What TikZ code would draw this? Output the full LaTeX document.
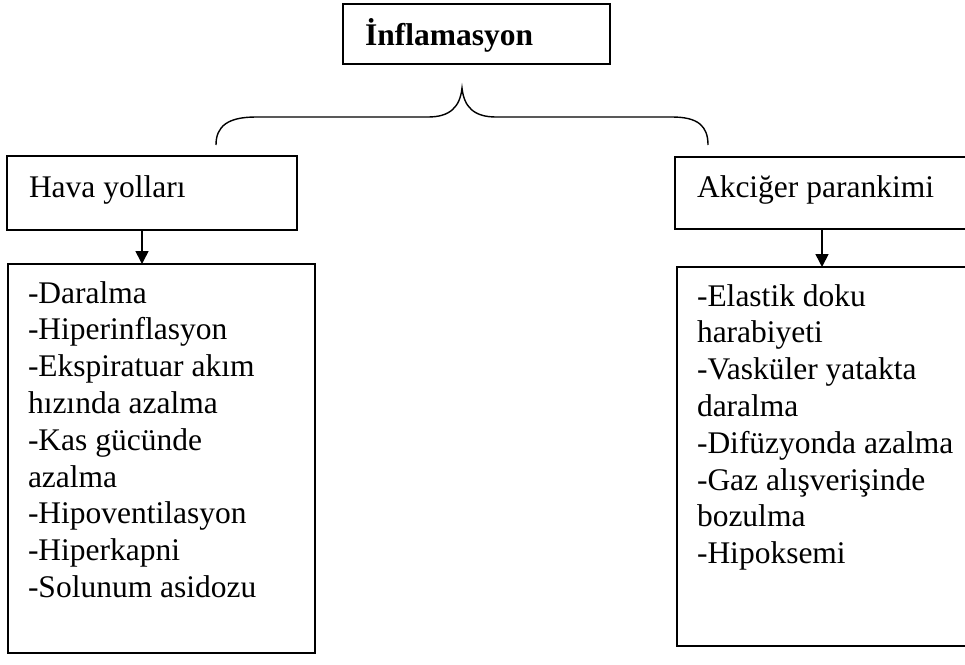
\documentclass[tikz,border=0pt]{standalone}
\usepackage{fontspec}
\setmainfont{Liberation Serif}
\usetikzlibrary{arrows.meta}
\newcommand\diafs{\fontsize{31.5}{36.8}\selectfont}
\begin{document}
\begin{tikzpicture}[x=1pt,y=-1pt,
  box/.style={draw=black, line width=1.5pt, inner sep=0pt, outer sep=0pt, anchor=north west, rectangle},
  txt/.style={anchor=base west, inner sep=0pt, outer sep=0pt, font=\diafs},
  arr/.style={line width=1.6pt, -{Triangle[width=13pt,length=13pt]}},
  bracestyle/.style={line width=1.4pt}]
\useasboundingbox (0,0) rectangle (965,664);
\clip (0,0) rectangle (965,664);
% boxes
\node[box, minimum width=267pt, minimum height=60pt] (top) at (343,4) {};
\node[box, minimum width=290pt, minimum height=74pt] (hava) at (7,156) {};
\node[box, minimum width=307pt, minimum height=389pt] (llist) at (8,264) {};
\node[box, minimum width=305pt, minimum height=72pt] (akc) at (675,157) {};
\node[box, minimum width=303pt, minimum height=379pt] (rlist) at (677,267) {};
% titles
\node[txt, font=\diafs\bfseries] (ttop) at (365,45) {İnflamasyon};
\node[txt] (thava) at (29,197) {Hava yolları};
\node[txt] (takc) at (697,197) {Akciğer parankimi};
% lists
\foreach \t [count=\i] in {-Daralma,-Hiperinflasyon,-Ekspiratuar akım,hızında azalma,-Kas gücünde,azalma,-Hipoventilasyon,-Hiperkapni,-Solunum asidozu}
  \node[txt] (L\i) at (28,{303+(\i-1)*36.8}) {\t};
\foreach \t [count=\i] in {-Elastik doku,harabiyeti,-Vasküler yatakta,daralma,-Difüzyonda azalma,-Gaz alışverişinde,bozulma,-Hipoksemi}
  \node[txt] (R\i) at (697,{306+(\i-1)*36.8}) {\t};
% arrows
\coordinate (ax1) at (142,0);
\coordinate (ax2) at (822,0);
\draw[arr] (hava.south -| ax1) -- (llist.north -| ax1);
\draw[arr] (akc.south -| ax2) -- (rlist.north -| ax2);
% brace
\coordinate (bL) at (216,145);
\coordinate (bT) at (462,88);
\coordinate (bR) at (708,145);
\draw[bracestyle] (bL) .. controls (216,126) and (228,117) .. (256,117) -- (428,117)
  .. controls (450,117) and (460,107) .. (bT)
  .. controls (464,107) and (474,117) .. (496,117) -- (672,117)
  .. controls (698,117) and (708,126) .. (bR);
\end{tikzpicture}
\end{document}
